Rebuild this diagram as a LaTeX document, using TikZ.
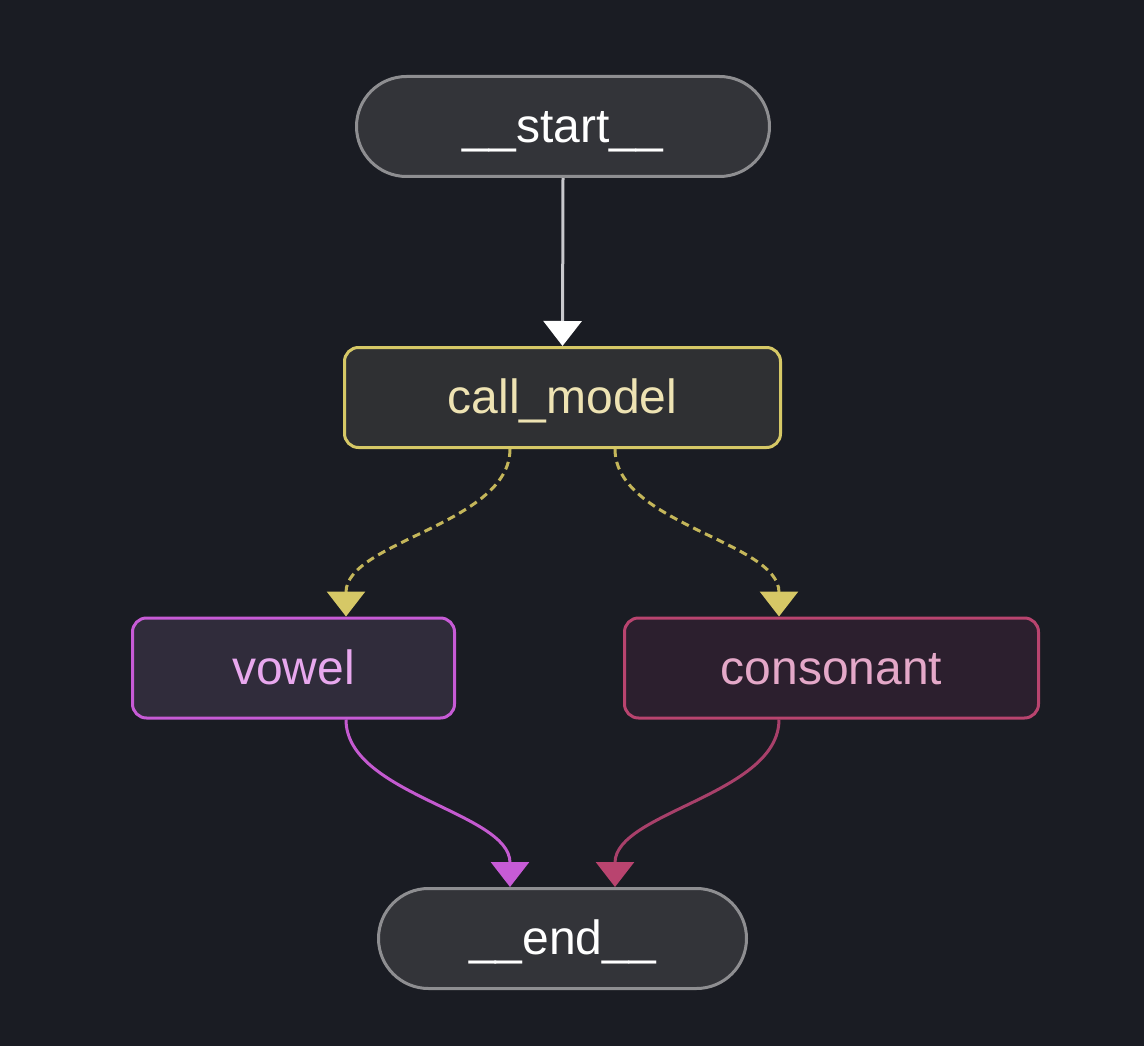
\documentclass[tikz,border=0pt]{standalone}
\usepackage{fontspec}
\setmainfont{Liberation Sans}
\usetikzlibrary{arrows.meta}
\definecolor{bg}{RGB}{26,28,35}
\definecolor{termfill}{RGB}{51,52,57}
\definecolor{termline}{RGB}{142,142,145}
\definecolor{cmfill}{RGB}{47,48,51}
\definecolor{cmline}{RGB}{214,200,102}
\definecolor{cmtext}{RGB}{238,227,179}
\definecolor{cmedge}{RGB}{196,182,90}
\definecolor{vfill}{RGB}{48,44,59}
\definecolor{vline}{RGB}{199,91,214}
\definecolor{vtext}{RGB}{232,168,238}
\definecolor{vedge}{RGB}{196,90,208}
\definecolor{cfill}{RGB}{44,31,46}
\definecolor{cline}{RGB}{185,68,111}
\definecolor{ctext}{RGB}{228,168,200}
\definecolor{cedge}{RGB}{168,64,106}
\definecolor{startedge}{RGB}{200,200,204}
\tikzset{
  basebox/.style={draw, line width=3pt, inner sep=0pt, minimum height=100pt,
    text height=40pt, text depth=8pt,
    font=\fontsize{48}{58}\selectfont},
  term/.style={basebox, fill=termfill, draw=termline, text=white, rounded corners=50pt},
  cmbox/.style={basebox, fill=cmfill, draw=cmline, text=cmtext, rounded corners=14pt},
  vbox/.style={basebox, fill=vfill, draw=vline, text=vtext, rounded corners=14pt},
  cbox/.style={basebox, fill=cfill, draw=cline, text=ctext, rounded corners=14pt},
  tip/.style={-{Triangle[width=38pt,length=25pt,color=#1]}},
  edge/.style={line width=3pt},
}
\begin{document}
\begin{tikzpicture}[x=1pt,y=-1pt]
\fill[bg] (0,0) rectangle (1144,1046);
\useasboundingbox (0,0) rectangle (1144,1046);
\node[term, minimum width=413pt] (start) at (563,126.5) {\_\_start\_\_};
\node[cmbox, minimum width=436pt] (cm) at (562.5,397.5) {call\_model};
\node[vbox, minimum width=322pt] (vowel) at (293.5,668) {vowel};
\node[cbox, minimum width=414pt] (cons) at (831.5,668) {consonant};
\node[term, minimum width=368pt] (end) at (562.5,938.5) {\_\_end\_\_};

\draw[edge, draw=startedge, tip=white] (start.south) -- (cm.north);
\draw[edge, draw=cmedge, dash pattern=on 8pt off 5pt, tip=cmline]
  ([xshift=-52.5pt]cm.south) .. controls +(0,75) and +(0,-75) .. ([xshift=52.5pt]vowel.north);
\draw[edge, draw=cmedge, dash pattern=on 8pt off 5pt, tip=cmline]
  ([xshift=52.5pt]cm.south) .. controls +(0,75) and +(0,-75) .. ([xshift=-52.5pt]cons.north);
\draw[edge, draw=vedge, tip=vline]
  ([xshift=52.5pt]vowel.south) .. controls +(0,75) and +(0,-75) .. ([xshift=-52.5pt]end.north);
\draw[edge, draw=cedge, tip=cline]
  ([xshift=-52.5pt]cons.south) .. controls +(0,75) and +(0,-75) .. ([xshift=52.5pt]end.north);
\end{tikzpicture}
\end{document}
